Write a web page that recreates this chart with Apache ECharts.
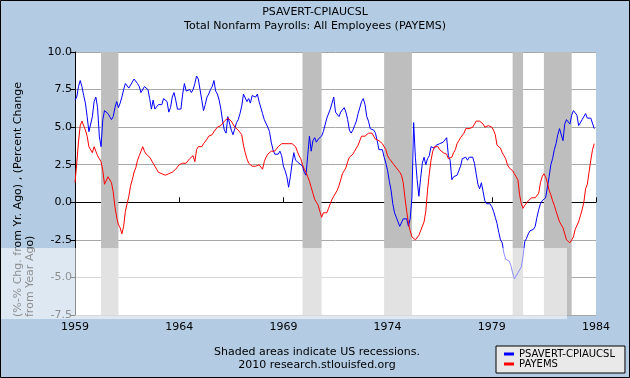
<!DOCTYPE html>
<html><head><meta charset="utf-8">
<script src="https://cdn.jsdelivr.net/npm/echarts@6/dist/echarts.min.js"></script>
<style>html,body{margin:0;padding:0;background:#B3CCE4}#c{width:630px;height:378px}</style>
</head><body><div id="c"></div>
<script>
const startYear = 1959;
// Monthly values, Jan 1959 - Dec 1983
const psavertCpi = [
6.8,7.0,7.7,8.1,7.7,7.1,6.6,5.7,4.7,4.8,5.7,6.7,
7.0,6.3,4.4,3.7,5.5,6.1,6.0,5.9,5.9,5.5,5.7,6.3,
6.7,6.3,6.6,7.0,7.5,7.9,7.9,7.6,7.5,8.0,8.2,8.1,
7.9,7.7,7.3,7.3,7.7,7.6,7.5,6.9,6.2,6.8,6.2,6.2,
6.5,6.6,6.5,6.9,7.0,6.7,6.0,6.3,7.0,7.3,6.8,6.2,
6.3,6.2,7.2,7.9,7.4,7.4,7.5,7.3,7.5,7.9,8.4,8.2,
7.5,6.8,6.1,6.5,7.0,7.2,7.5,7.7,8.1,7.4,7.2,6.8,
6.2,5.4,4.8,4.6,5.7,5.6,4.8,4.5,4.9,5.3,5.5,5.9,
6.4,7.2,7.3,6.7,6.9,6.6,7.1,7.2,7.0,7.2,6.7,6.6,
5.9,5.5,5.4,5.0,4.7,4.0,3.5,3.2,3.1,3.2,3.4,3.1,
2.4,2.1,1.7,1.0,1.7,2.6,3.3,2.8,2.7,2.6,2.5,2.4,
2.0,1.8,3.1,4.4,3.4,4.1,4.3,4.0,4.2,4.2,4.4,4.7,
4.8,5.6,5.7,6.2,6.6,7.0,6.0,5.9,5.7,6.0,6.1,6.3,
6.0,5.5,4.8,4.6,4.8,5.1,5.4,5.9,6.3,6.7,6.9,6.5,
5.7,5.4,4.9,4.9,4.8,4.6,4.1,3.5,3.4,3.5,3.0,2.6,
2.1,1.4,0.8,-0.1,-0.7,-0.8,-1.3,-1.6,-1.7,-1.1,-1.0,-1.1,
-1.6,-1.1,0.3,5.3,3.0,1.5,0.4,1.6,2.6,3.0,2.5,2.9,
3.1,3.7,3.7,3.6,3.8,3.7,3.9,3.9,4.0,4.0,4.3,3.1,
2.8,1.5,1.7,1.7,1.8,2.1,2.4,2.9,2.9,3.0,2.8,3.0,
3.1,3.0,2.6,1.9,1.2,0.9,1.3,0.7,0.1,-0.1,-0.2,-0.1,
-0.3,-0.6,-1.0,-1.4,-2.0,-2.5,-2.7,-3.4,-3.8,-3.8,-3.9,-4.2,
-4.7,-5.1,-5.2,-4.7,-4.5,-4.3,-3.6,-2.6,-2.4,-2.1,-1.9,-1.8,
-1.8,-1.6,-1.0,-0.5,-0.1,0.1,0.2,0.3,1.0,1.7,2.5,2.9,
3.5,3.9,4.5,4.9,4.8,4.1,5.2,5.5,5.5,5.2,5.8,6.1,
6.2,5.8,5.1,5.1,5.5,5.5,5.9,5.6,5.6,5.6,5.6,4.9
];
const payems = [
1.3,2.6,4.0,5.1,5.4,5.5,4.8,4.4,3.7,3.7,3.3,3.7,
3.4,3.1,2.9,2.7,2.1,1.2,1.1,1.7,1.7,1.3,0.7,-0.3,
-1.0,-1.5,-1.7,-2.1,-1.6,-0.6,-0.1,0.4,1.1,1.5,2.0,2.3,
2.8,3.1,3.4,3.7,3.4,3.2,3.1,3.0,2.9,2.6,2.4,2.2,
2.0,1.9,1.9,1.8,1.8,1.9,1.9,1.9,2.0,2.1,2.2,2.3,
2.5,2.5,2.6,2.5,2.6,2.7,2.9,3.0,3.1,2.7,3.5,3.7,
3.7,3.7,3.9,4.0,4.2,4.4,4.5,4.5,4.7,4.8,5.0,4.9,
5.1,5.2,5.4,5.4,5.6,5.5,5.4,5.2,5.0,4.9,4.8,4.7,
4.5,3.8,3.3,2.9,2.6,2.5,2.4,2.3,2.4,2.3,2.5,2.4,
2.2,2.7,3.0,3.2,3.3,3.4,3.3,3.4,3.5,3.7,3.8,3.9,
3.8,3.9,3.8,3.9,4.0,3.9,3.8,3.7,3.4,3.1,2.9,2.5,
2.2,2.0,1.7,1.4,1.0,0.6,0.2,0.0,-0.2,-0.6,-1.0,-0.7,
-0.6,-0.7,-0.4,-0.1,0.2,0.4,0.5,0.8,1.1,1.5,1.9,2.1,
2.3,2.7,3.0,3.1,3.2,3.4,3.6,3.8,4.1,4.4,4.4,4.4,
4.4,4.6,4.5,4.6,4.4,4.2,4.1,4.1,4.0,3.9,3.8,3.5,
3.1,2.9,2.8,2.6,2.5,2.3,2.2,2.0,1.8,1.3,0.3,-0.6,
-1.4,-1.9,-2.3,-2.4,-2.5,-2.5,-2.2,-1.9,-1.8,-1.3,-0.6,0.8,
1.9,2.8,3.4,3.7,3.7,3.7,3.5,3.4,3.3,3.4,3.2,2.9,
2.8,3.0,3.3,3.5,3.9,4.1,4.3,4.4,4.6,4.9,4.9,4.9,
4.9,5.0,5.2,5.4,5.5,5.4,5.3,5.2,5.0,5.0,5.1,5.0,
5.0,4.8,4.5,3.8,3.7,3.6,3.3,3.1,2.9,2.5,2.3,2.2,
2.1,1.9,1.7,1.5,0.5,-0.1,-0.4,-0.2,-0.1,0.1,0.2,0.3,
0.3,0.3,0.3,0.6,1.3,1.7,1.9,1.7,1.3,0.8,0.5,0.1,
-0.2,-0.6,-0.7,-1.3,-1.5,-1.7,-2.1,-2.5,-2.6,-2.7,-2.5,-2.3,
-1.8,-1.7,-1.3,-0.9,-0.5,0.0,0.9,1.2,2.0,2.8,3.5,3.9
];
const recessions = [['1960-04','1961-02'],['1969-12','1970-11'],['1973-11','1975-03'],['1980-01','1980-07'],['1981-07','1982-11']];
const xMin = 1959, xMax = 1984, xStep = 5;
const yMin = -7.5, yMax = 10, yStep = 2.5;
const seriesNames = ['PSAVERT-CPIAUCSL', 'PAYEMS'];
const titleLines = ['PSAVERT-CPIAUCSL', 'Total Nonfarm Payrolls: All Employees (PAYEMS)'];
const yNameLines = ['(%-% Chg. from Yr. Ago) , (Percent Change', 'from Year Ago)'];
const footLines = ['Shaded areas indicate US recessions.', '2010 research.stlouisfed.org'];

const FF = 'DejaVu Sans';
const ym = s => { const [y, m] = s.split('-').map(Number); return y + (m - 1) / 12; };
const toPairs = arr => arr.map((v, i) => [startYear + i / 12, v]);

const chart = echarts.init(document.getElementById('c'), null, {renderer: 'canvas'});
chart.setOption({
  animation: false,
  backgroundColor: '#B3CCE4',
  grid: {left: 75, top: 52, width: 521, height: 263, show: true, backgroundColor: '#FFFFFF', borderWidth: 0},
  xAxis: {
    type: 'value', min: xMin, max: xMax, interval: xStep,
    axisLine: {show: true, lineStyle: {color: '#000', width: 1}},
    axisTick: {show: true, inside: true, length: 5, lineStyle: {color: '#000'}},
    axisLabel: {color: '#000', fontSize: 11, fontFamily: FF, margin: 7, formatter: v => String(v)},
    splitLine: {show: false}
  },
  yAxis: {
    type: 'value', min: yMin, max: yMax, interval: yStep,
    axisLine: {show: true, lineStyle: {color: '#000', width: 1}},
    axisTick: {show: true, inside: false, length: 4, lineStyle: {color: '#000'}},
    axisLabel: {color: '#000', fontSize: 11, fontFamily: FF, margin: 3, formatter: v => v.toFixed(1)},
    splitLine: {show: true, lineStyle: {color: '#A8A8A8', width: 1}}
  },
  legend: {
    orient: 'vertical', left: 496, top: 346,
    padding: [3, 10, 4, 8], itemGap: 0, itemWidth: 10, itemHeight: 3, itemTextGap: 9,
    backgroundColor: '#E9E9E9', borderColor: '#000', borderWidth: 1, borderRadius: 0,
    icon: 'rect',
    textStyle: {fontSize: 10, fontFamily: FF, color: '#000', lineHeight: 10},
    data: seriesNames
  },
  series: [
    {
      type: 'line', name: '_rec', data: [], z: 1, silent: true,
      markArea: {
        silent: true,
        itemStyle: {color: '#BEBEBE', opacity: 1},
        data: recessions.map(r => [{xAxis: ym(r[0])}, {xAxis: ym(r[1])}])
      }
    },
    {type: 'line', name: seriesNames[0], data: toPairs(psavertCpi), z: 3, symbol: 'none',
     lineStyle: {color: '#0000FF', width: 1}, itemStyle: {color: '#0000FF'}},
    {type: 'line', name: seriesNames[1], data: toPairs(payems), z: 4, symbol: 'none',
     lineStyle: {color: '#FF0000', width: 1}, itemStyle: {color: '#FF0000'}}
  ],
  graphic: [
    {type: 'text', left: 'center', top: 7, style: {text: titleLines[0], font: '11px "DejaVu Sans"', fill: '#000'}},
    {type: 'text', left: 'center', top: 21, style: {text: titleLines[1], font: '11px "DejaVu Sans"', fill: '#000'}},
    {type: 'text', x: 18, y: 317, rotation: Math.PI / 2, style: {text: yNameLines[0], font: '11px "DejaVu Sans"', fill: '#000', textAlign: 'left', textVerticalAlign: 'middle'}},
    {type: 'text', x: 30, y: 317, rotation: Math.PI / 2, style: {text: yNameLines[1], font: '11px "DejaVu Sans"', fill: '#000', textAlign: 'left', textVerticalAlign: 'middle'}},
    {type: 'text', x: 317, y: 352, style: {text: footLines[0], font: '11px "DejaVu Sans"', fill: '#000', textAlign: 'center', textVerticalAlign: 'middle'}},
    {type: 'text', x: 317, y: 365, style: {text: footLines[1], font: '11px "DejaVu Sans"', fill: '#000', textAlign: 'center', textVerticalAlign: 'middle'}},
    {type: 'rect', shape: {x: 0, y: 248, width: 567, height: 71}, style: {fill: 'rgba(255,255,255,0.55)'}, z: 100, silent: true},
    {type: 'rect', shape: {x: 0.5, y: 0.5, width: 629, height: 377}, style: {fill: 'none', stroke: '#000', lineWidth: 1}, z: 101, silent: true}
  ]
});
</script>
</body></html>
